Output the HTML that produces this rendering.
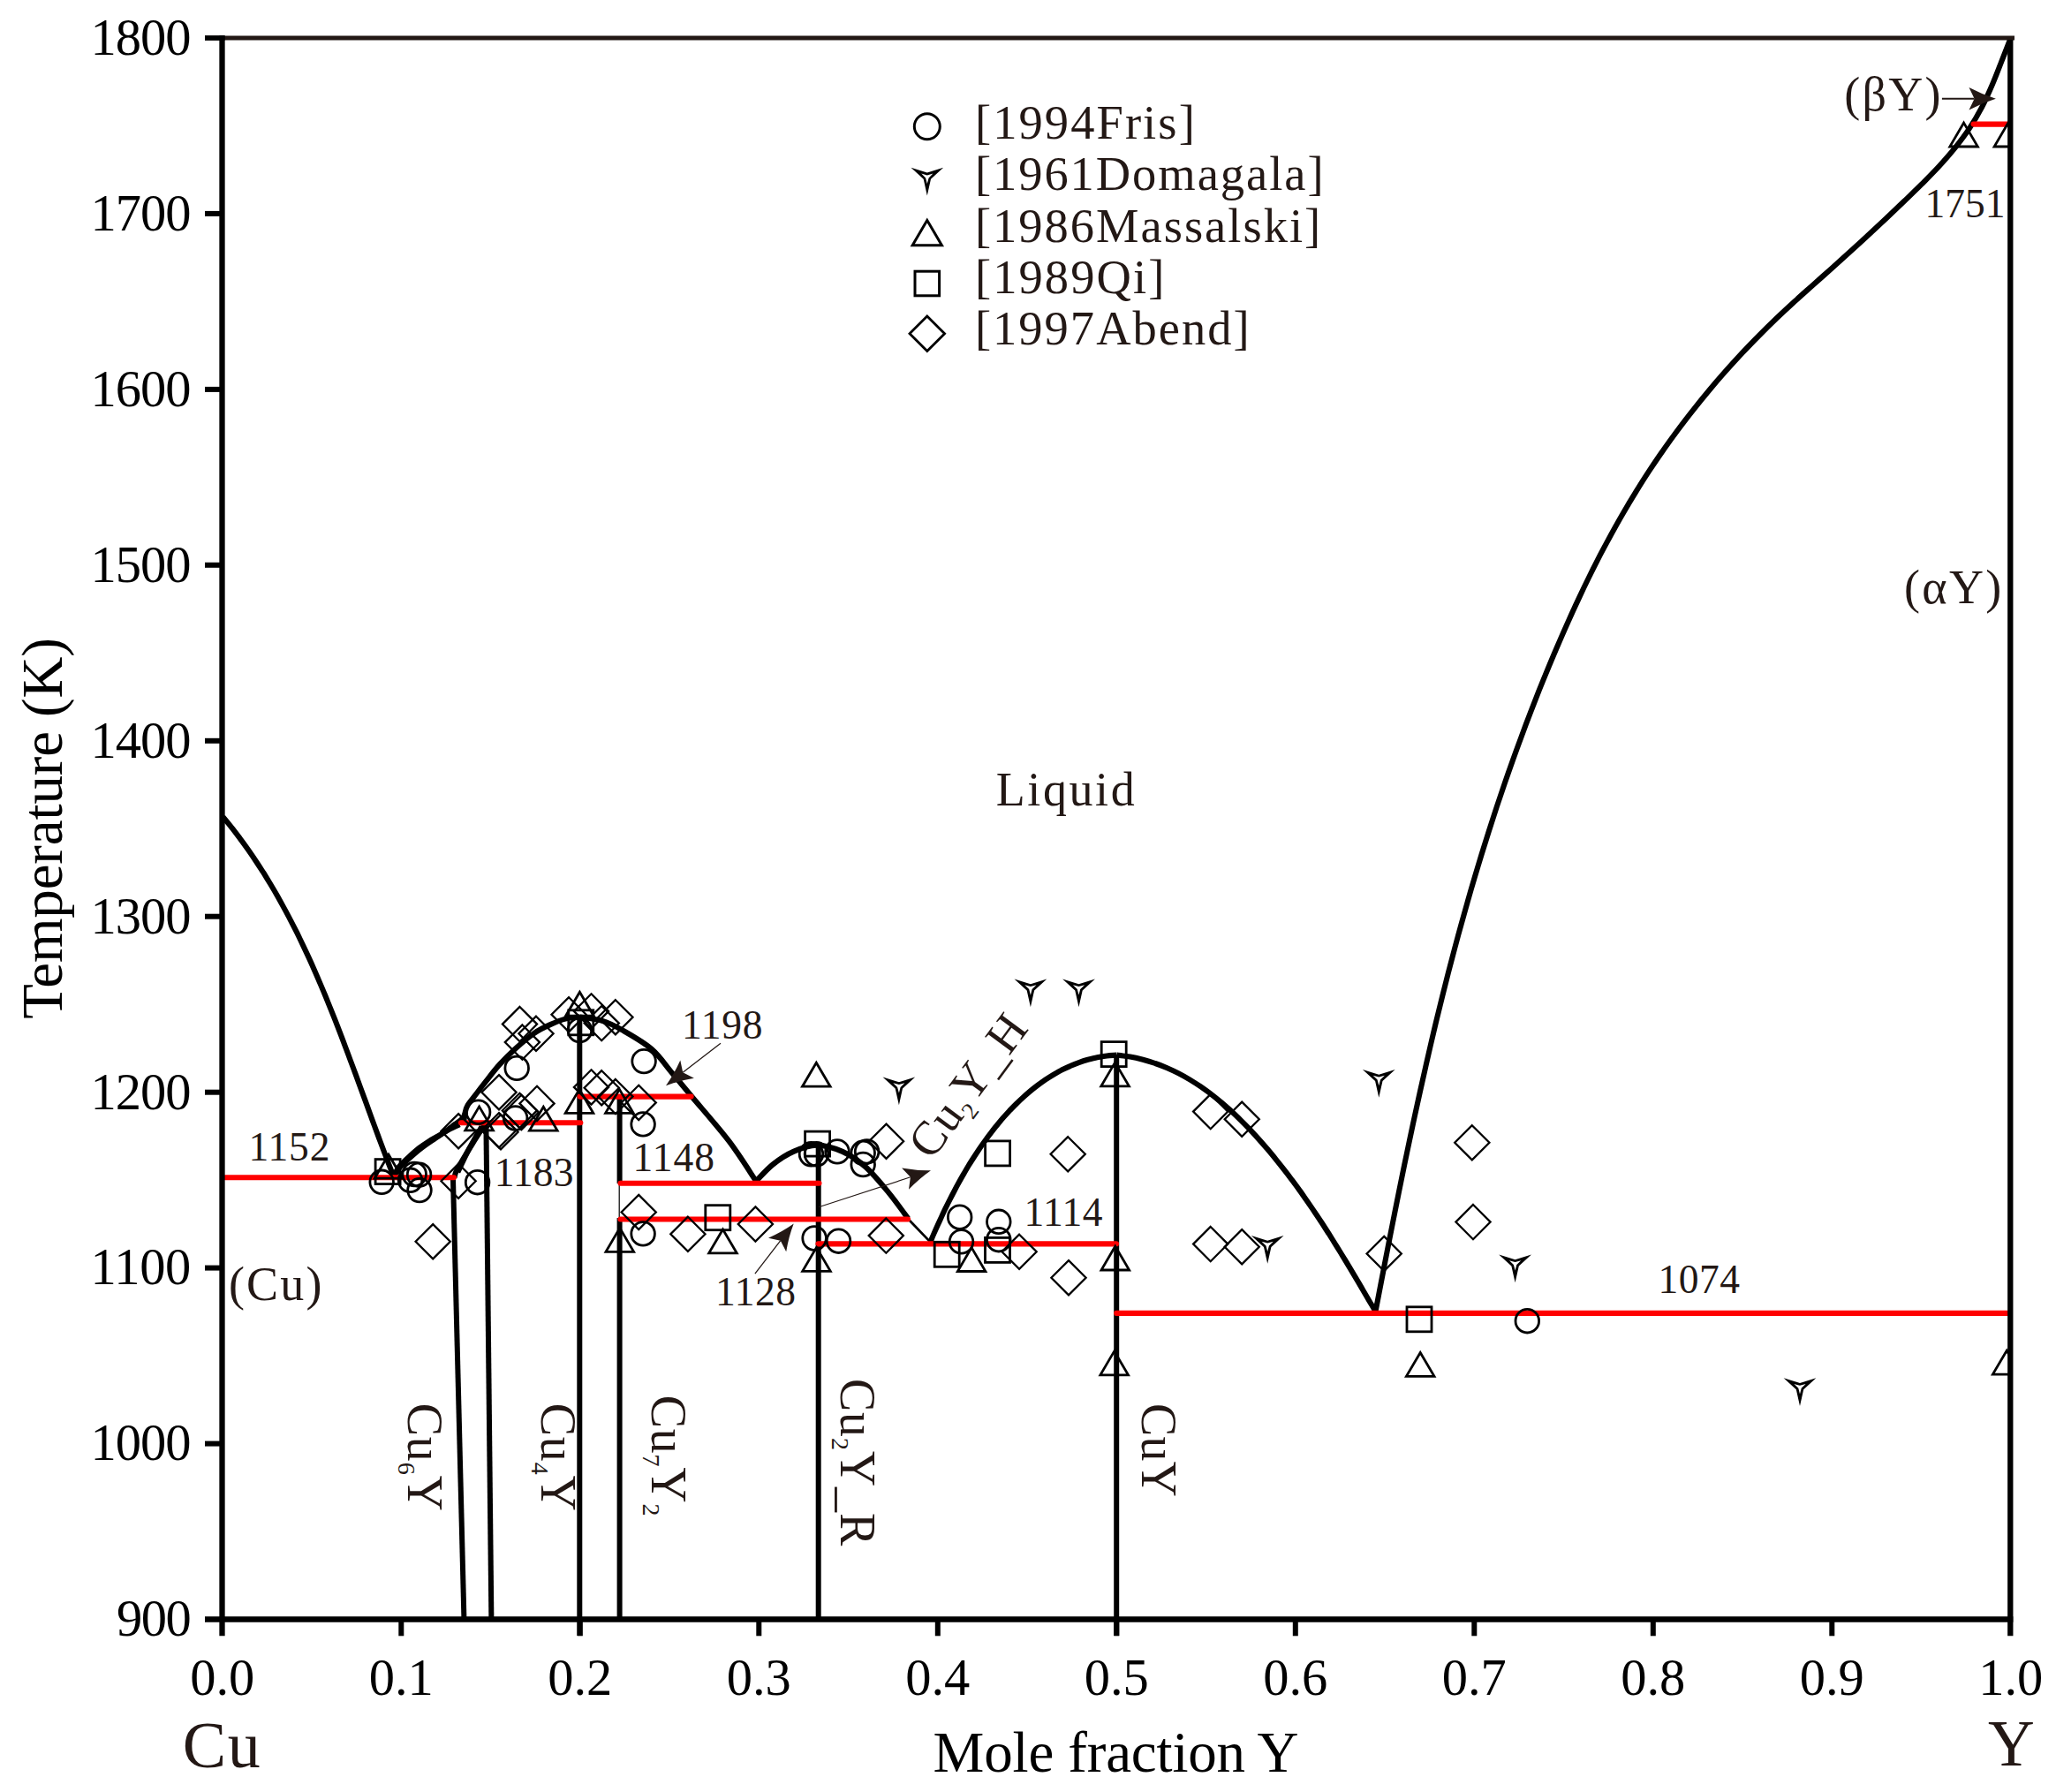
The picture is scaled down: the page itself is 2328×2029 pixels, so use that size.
<!DOCTYPE html>
<html><head><meta charset="utf-8"><title>Cu-Y phase diagram</title>
<style>
html,body{margin:0;padding:0;background:#fff;}
svg{display:block;}
text{font-family:"Liberation Serif","DejaVu Serif",serif;}
.m{fill:none;stroke:#000;stroke-width:2.8;}
.d{stroke-width:2.3;}
.red{stroke:#ff0000;stroke-width:6.1;stroke-linecap:round;fill:none;}
.liq{stroke:#000;stroke-width:6.1;fill:none;stroke-linejoin:round;stroke-linecap:butt;}
.v{stroke:#000;stroke-width:6;fill:none;}
</style></head><body>
<svg width="2328" height="2029" viewBox="0 0 2328 2029">
<defs><clipPath id="cp"><rect x="251.5" y="43.0" width="2024.8000000000002" height="1790.4"/></clipPath></defs>
<rect width="2328" height="2029" fill="#fff"/>

<g class="liq" clip-path="url(#cp)">
<path d="M252.5,925.0 C254.2,927.0 259.2,933.1 262.4,937.2 C265.7,941.3 268.8,945.5 271.9,949.6 C275.1,953.8 278.1,958.0 281.1,962.3 C284.1,966.6 287.0,970.8 289.9,975.2 C292.8,979.5 295.6,983.9 298.4,988.2 C301.1,992.6 303.8,997.1 306.5,1001.5 C309.2,1006.0 311.8,1010.4 314.4,1015.0 C316.9,1019.5 319.4,1024.0 321.9,1028.6 C324.4,1033.1 326.8,1037.7 329.2,1042.3 C331.6,1046.9 334.0,1051.6 336.3,1056.2 C338.6,1060.9 340.8,1065.6 343.1,1070.3 C345.3,1075.0 347.5,1079.7 349.7,1084.4 C351.9,1089.2 354.0,1093.9 356.1,1098.7 C358.2,1103.5 360.3,1108.3 362.3,1113.1 C364.4,1117.9 366.4,1122.7 368.4,1127.5 C370.4,1132.4 372.3,1137.2 374.3,1142.1 C376.2,1146.9 378.2,1151.8 380.1,1156.7 C382.0,1161.5 383.9,1166.4 385.8,1171.3 C387.6,1176.2 389.5,1181.1 391.3,1186.0 C393.2,1190.9 395.0,1195.8 396.8,1200.7 C398.7,1205.6 400.5,1210.5 402.3,1215.4 C404.1,1220.3 405.9,1225.2 407.7,1230.2 C409.5,1235.1 411.3,1240.0 413.1,1244.9 C414.9,1249.8 416.7,1254.7 418.4,1259.6 C420.2,1264.5 422.0,1269.4 423.8,1274.3 C425.6,1279.2 427.4,1284.1 429.2,1288.9 C431.0,1293.8 432.9,1298.7 434.7,1303.5 C436.5,1308.4 438.4,1313.2 440.2,1318.0 C442.1,1322.9 444.9,1330.1 445.8,1332.5"/>
<path d="M445.8,1332.3 C446.8,1330.4 449.1,1324.7 452.0,1321.0 C454.9,1317.3 459.2,1313.5 463.0,1310.0 C466.8,1306.5 470.7,1303.0 474.5,1300.0 C478.3,1297.0 482.1,1294.5 486.0,1292.0 C489.9,1289.5 493.9,1287.6 497.8,1285.3 C501.7,1283.0 505.7,1280.2 509.5,1278.2 C513.3,1276.2 518.6,1274.0 520.4,1273.2"/>
<path d="M445.8,1332.3 C446.9,1330.6 449.5,1325.5 452.5,1322.0 C455.5,1318.5 460.1,1314.5 464.0,1311.0 C467.9,1307.5 471.8,1304.0 476.0,1300.8 C480.2,1297.5 484.1,1294.9 489.0,1291.5 C493.9,1288.1 501.3,1283.3 505.6,1280.2 C509.9,1277.1 512.0,1275.3 515.0,1273.0 C518.0,1270.7 521.4,1268.9 523.5,1266.6 C525.6,1264.3 526.8,1260.3 527.5,1259.0"/>
<path d="M525.3,1270.0 C525.5,1268.3 525.9,1263.1 526.6,1260.0 C527.3,1256.9 527.4,1255.1 529.5,1251.5 C531.6,1247.9 535.9,1243.0 539.3,1238.5 C542.7,1234.0 545.6,1230.2 550.0,1224.6 C554.4,1219.0 560.1,1211.4 565.8,1205.1 C571.5,1198.8 577.5,1192.8 584.0,1186.9 C590.5,1181.0 598.2,1174.4 604.7,1169.9 C611.2,1165.4 616.9,1162.8 623.0,1160.1 C629.1,1157.3 635.6,1154.8 641.2,1153.4 C646.8,1152.0 653.9,1151.9 656.4,1151.6"/>
<path d="M656.4,1151.6 C660.5,1152.3 673.2,1153.2 681.2,1155.7 C689.3,1158.1 695.2,1161.0 704.7,1166.4 C714.1,1171.8 728.5,1179.8 737.9,1187.9 C747.3,1196.0 753.8,1206.4 761.3,1215.2 C768.8,1224.1 772.1,1228.2 782.8,1241.0 C793.5,1253.8 813.3,1276.1 825.5,1292.2 C837.7,1308.3 851.0,1329.9 856.1,1337.4"/>
<path d="M856.1,1337.4 C859.3,1334.3 868.0,1324.1 875.1,1318.5 C882.1,1312.9 890.2,1307.5 898.4,1303.9 C906.7,1300.2 915.5,1296.6 924.7,1296.6 C933.9,1296.6 944.6,1299.8 953.9,1303.9 C963.1,1308.0 971.4,1313.6 980.2,1321.4 C988.9,1329.2 998.4,1340.9 1006.4,1350.6 C1014.4,1360.3 1024.7,1374.9 1028.3,1379.8"/>
<path d="M1053.3,1406.5 C1054.0,1404.9 1056.0,1400.1 1057.4,1396.9 C1058.8,1393.7 1060.3,1390.4 1061.7,1387.2 C1063.2,1384.0 1064.7,1380.7 1066.2,1377.5 C1067.7,1374.2 1069.2,1370.9 1070.8,1367.7 C1072.4,1364.4 1074.0,1361.2 1075.7,1357.9 C1077.3,1354.7 1079.0,1351.4 1080.7,1348.2 C1082.4,1344.9 1084.1,1341.7 1085.9,1338.5 C1087.7,1335.3 1089.5,1332.1 1091.4,1328.9 C1093.2,1325.7 1095.1,1322.5 1097.0,1319.3 C1098.9,1316.2 1100.9,1313.1 1102.9,1310.0 C1104.9,1306.9 1106.9,1303.8 1109.0,1300.7 C1111.0,1297.7 1113.1,1294.7 1115.3,1291.7 C1117.4,1288.7 1119.6,1285.7 1121.9,1282.8 C1124.1,1279.9 1126.3,1277.0 1128.7,1274.2 C1131.0,1271.4 1133.3,1268.6 1135.7,1265.8 C1138.1,1263.1 1140.6,1260.4 1143.0,1257.7 C1145.5,1255.1 1148.1,1252.5 1150.6,1250.0 C1153.2,1247.4 1155.8,1244.9 1158.5,1242.5 C1161.1,1240.1 1163.9,1237.7 1166.6,1235.4 C1169.4,1233.1 1172.2,1230.9 1175.0,1228.8 C1177.9,1226.6 1180.8,1224.5 1183.7,1222.5 C1186.7,1220.5 1189.7,1218.6 1192.7,1216.8 C1195.8,1215.0 1198.9,1213.3 1202.0,1211.6 C1205.2,1210.0 1208.4,1208.5 1211.7,1207.1 C1214.9,1205.6 1218.2,1204.3 1221.6,1203.1 C1225.0,1201.9 1228.4,1200.8 1231.8,1199.8 C1235.3,1198.9 1238.8,1198.0 1242.4,1197.3 C1246.0,1196.6 1249.6,1196.0 1253.3,1195.5 C1257.0,1195.1 1262.7,1194.8 1264.6,1194.6"/>
<path d="M1264.6,1194.6 C1267.1,1194.9 1274.7,1195.7 1279.6,1196.6 C1284.5,1197.4 1289.3,1198.5 1294.1,1199.7 C1298.8,1201.0 1303.5,1202.4 1308.0,1204.0 C1312.6,1205.5 1317.1,1207.3 1321.6,1209.2 C1326.0,1211.1 1330.4,1213.2 1334.6,1215.4 C1338.9,1217.6 1343.1,1220.0 1347.3,1222.5 C1351.4,1225.0 1355.5,1227.6 1359.5,1230.3 C1363.5,1233.1 1367.5,1235.9 1371.3,1238.9 C1375.2,1241.9 1379.0,1244.9 1382.8,1248.1 C1386.5,1251.3 1390.2,1254.5 1393.9,1257.8 C1397.5,1261.2 1401.1,1264.6 1404.6,1268.1 C1408.1,1271.5 1411.6,1275.1 1415.0,1278.7 C1418.4,1282.3 1421.8,1286.0 1425.1,1289.6 C1428.4,1293.3 1431.7,1297.1 1434.9,1300.8 C1438.1,1304.6 1441.3,1308.4 1444.4,1312.3 C1447.5,1316.1 1450.6,1320.0 1453.6,1323.9 C1456.7,1327.8 1459.7,1331.7 1462.6,1335.7 C1465.6,1339.6 1468.5,1343.6 1471.4,1347.6 C1474.3,1351.6 1477.1,1355.7 1479.9,1359.7 C1482.8,1363.8 1485.5,1367.9 1488.3,1372.0 C1491.1,1376.1 1493.8,1380.2 1496.5,1384.3 C1499.2,1388.4 1501.8,1392.6 1504.5,1396.7 C1507.1,1400.9 1509.8,1405.1 1512.4,1409.3 C1515.0,1413.4 1517.5,1417.6 1520.1,1421.8 C1522.7,1426.0 1525.2,1430.2 1527.7,1434.4 C1530.3,1438.7 1532.8,1442.9 1535.3,1447.1 C1537.8,1451.3 1540.3,1455.5 1542.7,1459.7 C1545.2,1464.0 1547.7,1468.2 1550.1,1472.4 C1552.6,1476.6 1556.3,1482.9 1557.5,1485.0"/>
<path d="M2276.5,43.5 C2274.8,47.9 2269.7,61.2 2266.2,69.9 C2262.8,78.7 2259.5,87.5 2255.8,96.0 C2252.1,104.6 2248.4,113.1 2244.1,121.3 C2239.8,129.4 2235.2,137.4 2230.1,145.1 C2225.1,152.8 2219.5,160.1 2213.7,167.4 C2207.9,174.6 2201.7,181.6 2195.4,188.5 C2189.1,195.3 2182.4,202.0 2175.8,208.7 C2169.2,215.3 2162.3,221.8 2155.6,228.3 C2148.8,234.8 2142.0,241.2 2135.2,247.7 C2128.4,254.1 2121.6,260.4 2114.8,266.8 C2108.0,273.1 2101.1,279.4 2094.3,285.6 C2087.4,291.9 2080.5,298.1 2073.6,304.2 C2066.7,310.4 2059.7,316.5 2052.8,322.7 C2045.9,328.9 2038.9,335.0 2032.1,341.3 C2025.2,347.6 2018.4,353.9 2011.7,360.3 C2004.9,366.8 1998.3,373.3 1991.7,380.0 C1985.1,386.6 1978.6,393.4 1972.2,400.2 C1965.8,407.1 1959.5,414.0 1953.2,421.1 C1947.0,428.1 1940.9,435.2 1934.8,442.5 C1928.8,449.7 1922.9,457.0 1917.1,464.3 C1911.2,471.7 1905.5,479.2 1899.9,486.7 C1894.3,494.2 1888.8,501.8 1883.5,509.4 C1878.1,517.1 1872.9,524.8 1867.7,532.6 C1862.6,540.4 1857.6,548.2 1852.8,556.1 C1847.9,564.0 1843.1,572.0 1838.5,580.0 C1833.8,588.0 1829.3,596.1 1824.8,604.2 C1820.4,612.3 1816.0,620.5 1811.7,628.7 C1807.5,636.9 1803.3,645.2 1799.2,653.5 C1795.1,661.8 1791.1,670.2 1787.2,678.6 C1783.2,687.0 1779.4,695.4 1775.6,703.9 C1771.8,712.4 1768.0,720.9 1764.4,729.5 C1760.7,738.0 1757.1,746.6 1753.5,755.2 C1749.9,763.9 1746.4,772.5 1742.9,781.2 C1739.5,789.9 1736.1,798.6 1732.7,807.4 C1729.3,816.1 1726.0,824.9 1722.8,833.7 C1719.5,842.5 1716.3,851.3 1713.2,860.1 C1710.0,869.0 1706.9,877.8 1703.8,886.7 C1700.8,895.6 1697.8,904.5 1694.8,913.4 C1691.9,922.3 1689.0,931.2 1686.1,940.2 C1683.3,949.1 1680.5,958.0 1677.7,967.0 C1675.0,976.0 1672.3,984.9 1669.6,993.9 C1666.9,1002.9 1664.3,1011.8 1661.8,1020.8 C1659.2,1029.8 1656.7,1038.8 1654.2,1047.8 C1651.7,1056.8 1649.3,1065.7 1646.9,1074.8 C1644.5,1083.8 1642.1,1092.8 1639.8,1101.8 C1637.5,1110.8 1635.2,1119.8 1633.0,1128.8 C1630.7,1137.9 1628.5,1146.9 1626.3,1155.9 C1624.2,1165.0 1622.0,1174.0 1619.9,1183.1 C1617.8,1192.1 1615.7,1201.2 1613.7,1210.3 C1611.6,1219.3 1609.6,1228.4 1607.6,1237.5 C1605.6,1246.6 1603.6,1255.7 1601.6,1264.8 C1599.7,1273.8 1597.7,1282.9 1595.8,1292.1 C1593.9,1301.2 1592.0,1310.3 1590.1,1319.4 C1588.2,1328.5 1586.4,1337.7 1584.5,1346.8 C1582.7,1355.9 1580.9,1365.1 1579.0,1374.3 C1577.2,1383.4 1575.4,1392.6 1573.6,1401.7 C1571.8,1410.9 1570.0,1420.1 1568.2,1429.3 C1566.5,1438.5 1564.7,1447.7 1562.9,1456.9 C1561.1,1466.1 1558.5,1479.9 1557.6,1484.5"/>
<path d="M514.5,1333.4 C514.8,1332.3 515.2,1329.3 516.4,1326.6 C517.6,1323.9 518.4,1322.4 521.5,1317.2 C524.5,1312.0 530.2,1302.6 534.8,1295.3 C539.3,1288.0 546.5,1277.1 548.8,1273.4"/>
<path d="M518.3,1327.2 C520.4,1322.8 526.5,1309.6 531.0,1301.0 C535.5,1292.4 543.1,1279.8 545.5,1275.5"/>
</g>
<path d="M1027.4,1379.2 L1053.7,1406.6" stroke="#000" stroke-width="2.8" fill="none"/>
<g class="v">
<path d="M513,1335 L525.5,1836"/>
<path d="M550.4,1272 L556.4,1836"/>
<path d="M656.3,1152 V1852"/>
<path d="M701.6,1243 V1340"/>
<path d="M701.6,1379 V1836"/>
<path d="M926.7,1297 V1836"/>
<path d="M1264.2,1194 V1852"/>
</g>
<path d="M701.2,1340 V1379" stroke="#000" stroke-width="1.2"/>
<g class="red">
<path d="M255.0,1333.3 H514.0"/>
<path d="M522.0,1271.2 H657.3"/>
<path d="M656.5,1241.6 H782.6"/>
<path d="M702.5,1339.7 H927.5"/>
<path d="M702.5,1380.5 H1028.0"/>
<path d="M926.5,1408.4 H1264.0"/>
<path d="M1264.2,1486.9 H2273.0"/>
<path d="M2234.6,140.6 H2273.0"/>
</g>
<g class="m" clip-path="url(#cp)">
<circle cx="432.2" cy="1338.3" r="13.3"/>
<circle cx="464.5" cy="1336.3" r="13.3"/>
<circle cx="474.6" cy="1330.2" r="13.3"/>
<circle cx="475.0" cy="1347.6" r="13.3"/>
<circle cx="469.2" cy="1329.5" r="13.3"/>
<circle cx="540.6" cy="1338.7" r="13.3"/>
<circle cx="541.6" cy="1259.2" r="13.3"/>
<circle cx="585.2" cy="1209.4" r="13.3"/>
<circle cx="583.6" cy="1266.0" r="13.3"/>
<circle cx="656.4" cy="1166.5" r="13.3"/>
<circle cx="729.1" cy="1201.6" r="13.3"/>
<circle cx="728.1" cy="1272.9" r="13.3"/>
<circle cx="728.1" cy="1396.9" r="13.3"/>
<circle cx="918.5" cy="1306.8" r="13.3"/>
<circle cx="924.5" cy="1306.8" r="13.3"/>
<circle cx="948.0" cy="1303.9" r="13.3"/>
<circle cx="977.2" cy="1305.3" r="13.3"/>
<circle cx="981.6" cy="1303.9" r="13.3"/>
<circle cx="977.2" cy="1318.5" r="13.3"/>
<circle cx="922.1" cy="1402.0" r="13.3"/>
<circle cx="949.5" cy="1405.2" r="13.3"/>
<circle cx="1086.7" cy="1378.2" r="13.3"/>
<circle cx="1088.5" cy="1405.9" r="13.3"/>
<circle cx="1130.8" cy="1383.3" r="13.3"/>
<circle cx="1130.8" cy="1403.7" r="13.3"/>
<circle cx="1729.3" cy="1495.7" r="13.3"/>
<rect x="425.1" y="1312.6" width="28.0" height="28.0"/>
<rect x="643.8" y="1143.8" width="28.0" height="28.0"/>
<rect x="911.6" y="1281.1" width="28.0" height="28.0"/>
<rect x="798.8" y="1364.7" width="28.0" height="28.0"/>
<rect x="1115.6" y="1291.9" width="28.0" height="28.0"/>
<rect x="1247.2" y="1179.6" width="28.0" height="28.0"/>
<rect x="1058.2" y="1406.3" width="28.0" height="28.0"/>
<rect x="1115.5" y="1401.4" width="28.0" height="28.0"/>
<rect x="1593.0" y="1479.8" width="28.0" height="28.0"/>
<path d="M440.0,1307.3 L455.8,1334.2 L424.2,1334.2 Z"/>
<path d="M542.6,1252.9 L558.4,1279.8 L526.8,1279.8 Z"/>
<path d="M615.3,1253.2 L631.1,1280.1 L599.5,1280.1 Z"/>
<path d="M656.4,1123.3 L672.2,1150.2 L640.6,1150.2 Z"/>
<path d="M656.0,1233.4 L671.8,1260.3 L640.2,1260.3 Z"/>
<path d="M701.4,1233.4 L717.2,1260.3 L685.6,1260.3 Z"/>
<path d="M701.8,1390.4 L717.6,1417.3 L686.0,1417.3 Z"/>
<path d="M924.3,1203.3 L940.1,1230.2 L908.5,1230.2 Z"/>
<path d="M924.5,1412.4 L940.3,1439.3 L908.7,1439.3 Z"/>
<path d="M1262.6,1202.9 L1278.4,1229.8 L1246.8,1229.8 Z"/>
<path d="M1262.8,1411.1 L1278.6,1438.0 L1247.0,1438.0 Z"/>
<path d="M818.5,1392.0 L834.3,1418.9 L802.7,1418.9 Z"/>
<path d="M1100.1,1412.6 L1115.9,1439.5 L1084.3,1439.5 Z"/>
<path d="M1261.7,1529.9 L1277.5,1556.8 L1245.9,1556.8 Z"/>
<path d="M1608.2,1531.5 L1624.0,1558.4 L1592.4,1558.4 Z"/>
<path d="M2223.6,139.1 L2239.4,166.0 L2207.8,166.0 Z"/>
<path d="M2273.9,139.1 L2289.7,166.0 L2258.1,166.0 Z"/>
<path d="M2272.2,1529.2 L2288.0,1556.1 L2256.4,1556.1 Z"/>
<path class="d" d="M490.2,1386.1 L509.8,1405.7 L490.2,1425.3 L470.6,1405.7 Z"/>
<path class="d" d="M519.1,1261.1 L538.7,1280.7 L519.1,1300.3 L499.5,1280.7 Z"/>
<path class="d" d="M519.1,1317.7 L538.7,1337.3 L519.1,1356.9 L499.5,1337.3 Z"/>
<path class="d" d="M565.0,1217.1 L584.6,1236.7 L565.0,1256.3 L545.4,1236.7 Z"/>
<path class="d" d="M565.0,1260.1 L584.6,1279.7 L565.0,1299.3 L545.4,1279.7 Z"/>
<path class="d" d="M588.5,1140.0 L608.1,1159.6 L588.5,1179.2 L568.9,1159.6 Z"/>
<path class="d" d="M591.4,1160.5 L611.0,1180.1 L591.4,1199.7 L571.8,1180.1 Z"/>
<path class="d" d="M607.0,1150.7 L626.6,1170.3 L607.0,1189.9 L587.4,1170.3 Z"/>
<path class="d" d="M590.4,1239.8 L610.0,1259.4 L590.4,1279.0 L570.8,1259.4 Z"/>
<path class="d" d="M588.4,1237.8 L608.0,1257.4 L588.4,1277.0 L568.8,1257.4 Z"/>
<path class="d" d="M567.0,1262.1 L586.6,1281.7 L567.0,1301.3 L547.4,1281.7 Z"/>
<path class="d" d="M608.0,1229.8 L627.6,1249.4 L608.0,1269.0 L588.4,1249.4 Z"/>
<path class="d" d="M644.1,1129.2 L663.7,1148.8 L644.1,1168.4 L624.5,1148.8 Z"/>
<path class="d" d="M669.5,1125.3 L689.1,1144.9 L669.5,1164.5 L649.9,1144.9 Z"/>
<path class="d" d="M681.2,1139.0 L700.9,1158.6 L681.2,1178.2 L661.6,1158.6 Z"/>
<path class="d" d="M696.9,1132.2 L716.5,1151.8 L696.9,1171.4 L677.3,1151.8 Z"/>
<path class="d" d="M669.5,1211.3 L689.1,1230.9 L669.5,1250.5 L649.9,1230.9 Z"/>
<path class="d" d="M681.2,1212.2 L700.9,1231.8 L681.2,1251.4 L661.6,1231.8 Z"/>
<path class="d" d="M696.9,1222.0 L716.5,1241.6 L696.9,1261.2 L677.3,1241.6 Z"/>
<path class="d" d="M723.2,1228.8 L742.8,1248.4 L723.2,1268.0 L703.6,1248.4 Z"/>
<path class="d" d="M723.2,1352.9 L742.8,1372.5 L723.2,1392.1 L703.6,1372.5 Z"/>
<path class="d" d="M778.9,1377.7 L798.5,1397.3 L778.9,1416.9 L759.3,1397.3 Z"/>
<path class="d" d="M1003.5,1272.6 L1023.1,1292.2 L1003.5,1311.8 L983.9,1292.2 Z"/>
<path class="d" d="M1209.2,1287.2 L1228.8,1306.8 L1209.2,1326.4 L1189.6,1306.8 Z"/>
<path class="d" d="M1210.0,1427.1 L1229.6,1446.7 L1210.0,1466.3 L1190.4,1446.7 Z"/>
<path class="d" d="M1003.3,1379.5 L1022.9,1399.1 L1003.3,1418.7 L983.7,1399.1 Z"/>
<path class="d" d="M1154.1,1397.7 L1173.7,1417.3 L1154.1,1436.9 L1134.5,1417.3 Z"/>
<path class="d" d="M855.4,1366.4 L875.0,1386.0 L855.4,1405.6 L835.8,1386.0 Z"/>
<path class="d" d="M1370.7,1239.0 L1390.3,1258.6 L1370.7,1278.2 L1351.1,1258.6 Z"/>
<path class="d" d="M1406.2,1247.6 L1425.8,1267.2 L1406.2,1286.8 L1386.7,1267.2 Z"/>
<path class="d" d="M1666.8,1274.2 L1686.4,1293.8 L1666.8,1313.3 L1647.2,1293.8 Z"/>
<path class="d" d="M1668.0,1364.0 L1687.6,1383.6 L1668.0,1403.2 L1648.4,1383.6 Z"/>
<path class="d" d="M1370.7,1389.0 L1390.3,1408.6 L1370.7,1428.2 L1351.1,1408.6 Z"/>
<path class="d" d="M1406.2,1392.1 L1425.8,1411.7 L1406.2,1431.3 L1386.7,1411.7 Z"/>
<path class="d" d="M1567.2,1399.9 L1586.8,1419.5 L1567.2,1439.1 L1547.6,1419.5 Z"/>
<path d="M1017.9,1251.2 L1013.7,1232.4 L999.5,1219.4 L1017.9,1225.2 L1036.2,1219.4 L1022.0,1232.4 Z M1017.9,1237.6 L1016.1,1231.0 L1011.3,1226.2 L1017.9,1228.0 L1024.4,1226.2 L1019.6,1231.0 Z" fill="#000" fill-rule="evenodd" stroke="none"/>
<path d="M1166.9,1140.3 L1162.7,1121.5 L1148.5,1108.5 L1166.9,1114.3 L1185.3,1108.5 L1171.1,1121.5 Z M1166.9,1126.7 L1165.2,1120.1 L1160.3,1115.3 L1166.9,1117.1 L1173.5,1115.3 L1168.6,1120.1 Z" fill="#000" fill-rule="evenodd" stroke="none"/>
<path d="M1221.5,1140.2 L1217.3,1121.4 L1203.1,1108.4 L1221.5,1114.2 L1239.9,1108.4 L1225.7,1121.4 Z M1221.5,1126.6 L1219.8,1120.0 L1214.9,1115.2 L1221.5,1117.0 L1228.1,1115.2 L1223.2,1120.0 Z" fill="#000" fill-rule="evenodd" stroke="none"/>
<path d="M1561.3,1242.8 L1557.1,1224.0 L1542.9,1211.0 L1561.3,1216.8 L1579.7,1211.0 L1565.5,1224.0 Z M1561.3,1229.2 L1559.6,1222.6 L1554.7,1217.8 L1561.3,1219.6 L1567.9,1217.8 L1563.0,1222.6 Z" fill="#000" fill-rule="evenodd" stroke="none"/>
<path d="M1435.2,1430.7 L1431.0,1411.9 L1416.8,1398.9 L1435.2,1404.7 L1453.6,1398.9 L1439.4,1411.9 Z M1435.2,1417.1 L1433.5,1410.5 L1428.6,1405.7 L1435.2,1407.5 L1441.8,1405.7 L1436.9,1410.5 Z" fill="#000" fill-rule="evenodd" stroke="none"/>
<path d="M1715.6,1452.2 L1711.4,1433.4 L1697.2,1420.4 L1715.6,1426.2 L1734.0,1420.4 L1719.8,1433.4 Z M1715.6,1438.6 L1713.9,1432.0 L1709.0,1427.2 L1715.6,1429.0 L1722.2,1427.2 L1717.3,1432.0 Z" fill="#000" fill-rule="evenodd" stroke="none"/>
<path d="M2038.0,1592.0 L2033.8,1573.2 L2019.6,1560.2 L2038.0,1566.0 L2056.4,1560.2 L2042.2,1573.2 Z M2038.0,1578.4 L2036.3,1571.8 L2031.4,1567.0 L2038.0,1568.8 L2044.6,1567.0 L2039.7,1571.8 Z" fill="#000" fill-rule="evenodd" stroke="none"/>
</g>
<path d="M232.0,43.0 H2281" stroke="#231815" stroke-width="5" fill="none"/>
<g stroke="#000" fill="none">
<path d="M232.0,43.0 H254.5" stroke-width="5.6"/>
<path d="M251.5,40.2 V1852.3" stroke-width="6.3"/>
<path d="M2276.3,45.0 V1852.3" stroke-width="6.3"/>
<path d="M232.0,1833.4 H2279.4" stroke-width="6.5"/>
<path d="M454.3,1833 V1852.3" stroke-width="6"/>
<path d="M656.8,1833 V1852.3" stroke-width="6"/>
<path d="M859.3,1833 V1852.3" stroke-width="6"/>
<path d="M1061.8,1833 V1852.3" stroke-width="6"/>
<path d="M1264.3,1833 V1852.3" stroke-width="6"/>
<path d="M1466.8,1833 V1852.3" stroke-width="6"/>
<path d="M1669.3,1833 V1852.3" stroke-width="6"/>
<path d="M1871.8,1833 V1852.3" stroke-width="6"/>
<path d="M2074.3,1833 V1852.3" stroke-width="6"/>
<path d="M232.0,1634.6 H251.5" stroke-width="6"/>
<path d="M232.0,1435.6 H251.5" stroke-width="6"/>
<path d="M232.0,1236.7 H251.5" stroke-width="6"/>
<path d="M232.0,1037.7 H251.5" stroke-width="6"/>
<path d="M232.0,838.8 H251.5" stroke-width="6"/>
<path d="M232.0,639.8 H251.5" stroke-width="6"/>
<path d="M232.0,440.9 H251.5" stroke-width="6"/>
<path d="M232.0,241.9 H251.5" stroke-width="6"/>
</g>
<text x="132.00" y="1852.3" font-size="58.5" letter-spacing="-1.500" fill="#000" >900</text>
<text x="102.50" y="1653.4" font-size="58.5" letter-spacing="-1.000" fill="#000" >1000</text>
<text x="102.50" y="1454.4" font-size="58.5" letter-spacing="-0.333" fill="#000" >1100</text>
<text x="102.50" y="1255.5" font-size="58.5" letter-spacing="-1.000" fill="#000" >1200</text>
<text x="102.50" y="1056.5" font-size="58.5" letter-spacing="-1.000" fill="#000" >1300</text>
<text x="102.50" y="857.6" font-size="58.5" letter-spacing="-1.000" fill="#000" >1400</text>
<text x="102.50" y="658.6" font-size="58.5" letter-spacing="-1.000" fill="#000" >1500</text>
<text x="102.50" y="459.7" font-size="58.5" letter-spacing="-1.000" fill="#000" >1600</text>
<text x="102.50" y="260.7" font-size="58.5" letter-spacing="-1.000" fill="#000" >1700</text>
<text x="102.50" y="61.8" font-size="58.5" letter-spacing="-1.000" fill="#000" >1800</text>
<text x="251.7" y="1919" font-size="58.5" fill="#000" text-anchor="middle">0.0</text>
<text x="454.2" y="1919" font-size="58.5" fill="#000" text-anchor="middle">0.1</text>
<text x="656.7" y="1919" font-size="58.5" fill="#000" text-anchor="middle">0.2</text>
<text x="859.2" y="1919" font-size="58.5" fill="#000" text-anchor="middle">0.3</text>
<text x="1061.7" y="1919" font-size="58.5" fill="#000" text-anchor="middle">0.4</text>
<text x="1264.2" y="1919" font-size="58.5" fill="#000" text-anchor="middle">0.5</text>
<text x="1466.7" y="1919" font-size="58.5" fill="#000" text-anchor="middle">0.6</text>
<text x="1669.2" y="1919" font-size="58.5" fill="#000" text-anchor="middle">0.7</text>
<text x="1871.7" y="1919" font-size="58.5" fill="#000" text-anchor="middle">0.8</text>
<text x="2074.2" y="1919" font-size="58.5" fill="#000" text-anchor="middle">0.9</text>
<text x="2276.7" y="1919" font-size="58.5" fill="#000" text-anchor="middle">1.0</text>
<text x="1056.60" y="2005.5" font-size="65" letter-spacing="-0.171" fill="#000" >Mole fraction Y</text>
<text transform="translate(69.5,1152.7) rotate(-90)" x="-1.00" y="0" font-size="65" letter-spacing="-0.171" fill="#000">Temperature (K)</text>
<text x="206.80" y="2001.1" font-size="74" letter-spacing="1.600" fill="#231815" >Cu</text>
<text x="2251.10" y="1998.7" font-size="73" letter-spacing="0.000" fill="#231815" >Y</text>
<text x="281.50" y="1313.5" font-size="45.5" letter-spacing="0.867" fill="#231815" >1152</text>
<text x="559.80" y="1342.7" font-size="45.5" letter-spacing="0.133" fill="#231815" >1183</text>
<text x="771.90" y="1176.2" font-size="45.5" letter-spacing="0.733" fill="#231815" >1198</text>
<text x="716.60" y="1325.8" font-size="45.5" letter-spacing="1.000" fill="#231815" >1148</text>
<text x="810.10" y="1477.9" font-size="45.5" letter-spacing="0.533" fill="#231815" >1128</text>
<text x="1159.60" y="1388.1" font-size="45.5" letter-spacing="0.400" fill="#231815" >1114</text>
<text x="1877.50" y="1464.0" font-size="45.5" letter-spacing="0.533" fill="#231815" >1074</text>
<text x="2179.40" y="245.5" font-size="45.5" letter-spacing="0.000" fill="#231815" >1751</text>
<text x="259.00" y="1471.8" font-size="54" letter-spacing="2.133" fill="#231815" >(Cu)</text>
<text x="2156.10" y="682.6" font-size="54" letter-spacing="2.267" fill="#231815" >(αY)</text>
<text x="2088.30" y="124.6" font-size="54" letter-spacing="2.267" fill="#231815" >(βY)</text>
<text x="1127.70" y="911.8" font-size="54" letter-spacing="2.600" fill="#231815" >Liquid</text>
<g class="m" style="stroke-width:3">
<circle cx="1049.8" cy="143.3" r="14.5"/>
<path d="M1049.8,249.4 L1066.4,277.7 L1033.2,277.7 Z"/>
<rect x="1036.0" y="307.2" width="27.6" height="27.6"/>
</g><g class="m">
<path style="stroke-width:2.8" d="M1049.8,357.9 L1069.6,377.7 L1049.8,397.5 L1030.0,377.7 Z"/>
</g>
<path d="M1049.8,221.6 L1045.7,202.8 L1031.5,189.8 L1049.8,195.6 L1068.2,189.8 L1054.0,202.8 Z M1049.8,208.0 L1048.1,201.4 L1043.3,196.6 L1049.8,198.4 L1056.4,196.6 L1051.6,201.4 Z" fill="#000" fill-rule="evenodd" stroke="none"/>
<text x="1103.90" y="157.1" font-size="54.5" letter-spacing="2.089" fill="#231815" >[1994Fris]</text>
<text x="1103.90" y="215.3" font-size="54.5" letter-spacing="1.954" fill="#231815" >[1961Domagala]</text>
<text x="1103.90" y="273.5" font-size="54.5" letter-spacing="2.000" fill="#231815" >[1986Massalski]</text>
<text x="1103.90" y="331.7" font-size="54.5" letter-spacing="2.086" fill="#231815" >[1989Qi]</text>
<text x="1103.90" y="390.0" font-size="54.5" letter-spacing="2.020" fill="#231815" >[1997Abend]</text>
<path d="M2198.9,111.7 L2235.6,111.7" stroke="#231815" stroke-width="1.9" fill="none"/>
<path d="M2259.9,111.7 Q2244.7,107.1 2229.5,99.0 L2235.6,111.7 L2229.5,124.5 Q2244.7,116.3 2259.9,111.7 Z" fill="#231815"/>
<path d="M816.0,1181.3 L773.2,1214.3" stroke="#231815" stroke-width="1.3" fill="none"/>
<path d="M754.0,1229.2 Q768.8,1223.5 785.9,1220.7 L773.2,1214.3 L770.3,1200.5 Q763.2,1216.3 754.0,1229.2 Z" fill="#231815"/>
<path d="M854.9,1442.1 L883.8,1404.7" stroke="#231815" stroke-width="1.3" fill="none"/>
<path d="M898.7,1385.5 Q885.8,1394.7 870.0,1401.7 L883.8,1404.7 L890.2,1417.3 Q893.0,1400.3 898.7,1385.5 Z" fill="#231815"/>
<path d="M927.0,1366.7 L1030.9,1332.8" stroke="#231815" stroke-width="1.2" fill="none"/>
<path d="M1054.0,1325.3 Q1038.1,1325.6 1021.1,1322.6 L1030.9,1332.8 L1029.0,1346.8 Q1041.0,1334.4 1054.0,1325.3 Z" fill="#231815"/>
<text transform="translate(461.7,1590.7) rotate(90)" x="-2.00" y="0" font-size="56" letter-spacing="0.800" fill="#231815"><tspan font-size="56" dy="0">Cu</tspan><tspan font-size="28" dy="10.5">6</tspan><tspan font-size="56" dy="-10.5">Y</tspan></text>
<text transform="translate(612.9,1590.7) rotate(90)" x="-2.00" y="0" font-size="56" letter-spacing="0.800" fill="#231815"><tspan font-size="56" dy="0">Cu</tspan><tspan font-size="28" dy="10.5">4</tspan><tspan font-size="56" dy="-10.5">Y</tspan></text>
<text transform="translate(738.4,1581.8) rotate(90)" x="-2.00" y="0" font-size="56" letter-spacing="0.700" fill="#231815"><tspan font-size="56" dy="0">Cu</tspan><tspan font-size="28" dy="10.5">7</tspan><tspan font-size="56" dy="-10.5">Y</tspan><tspan font-size="28" dy="10.5">2</tspan></text>
<text transform="translate(952.3,1562.9) rotate(90)" x="-2.00" y="0" font-size="56" letter-spacing="0.840" fill="#231815"><tspan font-size="56" dy="0">Cu</tspan><tspan font-size="28" dy="10.5">2</tspan><tspan font-size="56" dy="-10.5">Y_R</tspan></text>
<text transform="translate(1293.4,1591.1) rotate(90)" x="-2.00" y="0" font-size="56" letter-spacing="0.000" fill="#231815"><tspan font-size="56" dy="0">CuY</tspan></text>
<text transform="translate(1055.9,1313.2) rotate(-53.5)" x="-2.00" y="0" font-size="54" letter-spacing="1.000" fill="#231815"><tspan font-size="54" dy="0">Cu</tspan><tspan font-size="27" dy="10">2</tspan><tspan font-size="54" dy="-10">Y_H</tspan></text>
</svg></body></html>
